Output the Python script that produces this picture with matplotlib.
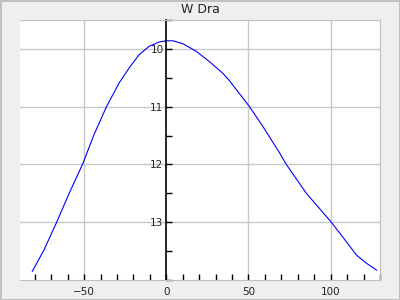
import matplotlib
matplotlib.use('Agg')
import matplotlib.pyplot as plt
from matplotlib.ticker import MultipleLocator

# light curve
days = [-81.5, -74.4, -66.7, -59.1, -51.0, -43.9, -36.4, -28.7, -22.6, -16.5,
        -10.4, -4.3, 0, 4, 10, 18.1, 26.2, 34.3, 38.4, 50.6, 58.7, 68.9, 73.0,
        85.2, 100.4, 109.6, 115.7, 121.8, 127.9]
mag = [13.85, 13.48, 13.0, 12.5, 12.0, 11.48, 11.0, 10.59, 10.33, 10.10,
       9.955, 9.88, 9.86, 9.86, 9.91, 10.04, 10.22, 10.42, 10.55, 11.0, 11.34,
       11.80, 12.0, 12.5, 13.0, 13.34, 13.57, 13.71, 13.83]
xticks = [-50, 0, 50, 100]
yticks = [10, 11, 12, 13]

fig = plt.figure(figsize=(4, 3), dpi=100, facecolor='#efefef')
fig.patch.set_edgecolor('#c0c0c0')
fig.patch.set_linewidth(2)
ax = fig.add_axes([0.05, 0.0667, 0.9, 0.8667])
ax.set_facecolor('white')

ax.plot(days, mag, color='blue', lw=0.8)

ax.set_xlim(-89, 130)
ax.set_ylim(14.0, 9.5)
ax.set_xticks(xticks)
ax.set_yticks(yticks)
ax.xaxis.set_minor_locator(MultipleLocator(10))
ax.yaxis.set_minor_locator(MultipleLocator(0.5))
ax.grid(True, which='major', color='#c8c8c8', lw=1)
ax.set_axisbelow(True)

for s in ['top', 'right', 'bottom']:
    ax.spines[s].set_color('#c0c0c0')
ax.spines['left'].set_position(('data', 0))
ax.spines['left'].set_color('black')
ax.spines['left'].set_linewidth(1.2)

ax.tick_params(axis='both', which='both', direction='in', length=4,
               width=1, labelsize=7.5, color='black', labelcolor='#222222')
ax.tick_params(axis='x', pad=5)
ax.tick_params(axis='y', pad=2)

ax.set_title('W Dra', fontsize=9, pad=5, color='#222222')

# no grid line under the y axis at 0
fig.canvas.draw()
for tick in ax.xaxis.get_major_ticks():
    if tick.get_loc() == 0:
        tick.gridline.set_visible(False)

fig.savefig('out.png', dpi=100, facecolor=fig.get_facecolor(),
            edgecolor=fig.get_edgecolor())
